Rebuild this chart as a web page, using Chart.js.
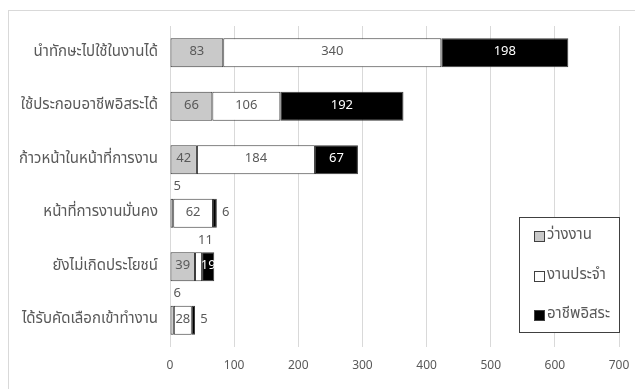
<!DOCTYPE html>
<html>
<head>
<meta charset="utf-8">
<script src="https://cdn.jsdelivr.net/npm/chart.js@4/dist/chart.umd.min.js"></script>
<style>
  html, body { margin: 0; padding: 0; background: #fff; }
  #wrap { position: relative; width: 635px; height: 389px; }
  #frame { position: absolute; left: 8px; top: 10px; right: -2px; bottom: -2px; border: 1px solid #d9d9d9; }
  canvas { position: absolute; left: 0; top: 0; }
</style>
</head>
<body>
<div id="wrap">
  <div id="frame"></div>
  <canvas id="c" width="635" height="389"></canvas>
</div>
<script>
// Benefit categories and respondent counts by employment status
const categories = [
  'นำทักษะไปใช้ในงานได้',
  'ใช้ประกอบอาชีพอิสระได้',
  'ก้าวหน้าในหน้าที่การงาน',
  'หน้าที่การงานมั่นคง',
  'ยังไม่เกิดประโยชน์',
  'ได้รับคัดเลือกเข้าทำงาน'
];
const seriesNames = ['ว่างงาน', 'งานประจำ', 'อาชีพอิสระ'];
const unemployed = [83, 66, 42, 5, 39, 6];
const regularJob = [340, 106, 184, 62, 11, 28];
const freelance  = [198, 192, 67, 6, 19, 5];
const xTicks = [0, 100, 200, 300, 400, 500, 600, 700];

const FONT = "'Noto Sans Thai', 'Leelawadee UI', Tahoma, 'Noto Sans', sans-serif";
const TEXT = '#595959';

// Value labels on each stacked segment
const valueLabels = {
  id: 'valueLabels',
  afterDatasetsDraw(chart) {
    const ctx = chart.ctx;
    ctx.save();
    ctx.font = '13px ' + FONT;
    ctx.textBaseline = 'middle';
    ctx.textAlign = 'center';
    chart.data.datasets.forEach((ds, di) => {
      const meta = chart.getDatasetMeta(di);
      meta.data.forEach((bar, i) => {
        const v = ds.data[i];
        const p = bar.getProps(['x', 'y', 'base', 'height'], true);
        const left = Math.min(p.x, p.base), right = Math.max(p.x, p.base);
        const w = ctx.measureText(String(v)).width;
        let tx = (left + right) / 2, ty = p.y, color = di === 2 ? '#ffffff' : TEXT;
        let clip = false;
        if (di < 2 && v < 15) {
          // too narrow: put the number above the segment
          tx = Math.max(tx, left + w / 2 + 3);
          ty = p.y - p.height / 2 - 11;
          color = TEXT;
        } else if (di === 2 && v < 10) {
          // too narrow: put the number after the end of the bar
          tx = right + 9;
          color = TEXT;
        } else if (di === 2) {
          // white text stays inside the black segment
          clip = true;
        }
        ctx.save();
        if (clip) {
          ctx.beginPath();
          ctx.rect(left, p.y - p.height / 2, right - left + 1, p.height);
          ctx.clip();
        }
        ctx.fillStyle = color;
        ctx.fillText(String(v), tx, ty);
        ctx.restore();
      });
    });
    ctx.restore();
  }
};

// Boxed legend sitting inside the plot area
const boxLegend = {
  id: 'boxLegend',
  afterDraw(chart) {
    const ctx = chart.ctx;
    const x = 519, y = 217, w = 100, h = 115;
    ctx.save();
    ctx.fillStyle = '#ffffff';
    ctx.fillRect(x, y, w, h);
    ctx.strokeStyle = '#404040';
    ctx.lineWidth = 1;
    ctx.strokeRect(x + 0.5, y + 0.5, w, h);
    ctx.font = '15px ' + FONT;
    ctx.textBaseline = 'middle';
    ctx.textAlign = 'left';
    const rows = [236, 276, 315];
    chart.data.datasets.forEach((ds, di) => {
      const cy = rows[di];
      ctx.fillStyle = ds.backgroundColor;
      ctx.fillRect(534, cy - 5, 10, 10);
      ctx.strokeStyle = '#404040';
      ctx.strokeRect(534.5, cy - 4.5, 10, 10);
      ctx.fillStyle = TEXT;
      ctx.fillText(ds.label, 547, cy);
    });
    ctx.restore();
  }
};

const palette = ['#c9c9c9', '#ffffff', '#000000'];
const values = [unemployed, regularJob, freelance];

new Chart(document.getElementById('c'), {
  type: 'bar',
  data: {
    labels: categories,
    datasets: seriesNames.map((name, i) => ({
      label: name,
      data: values[i],
      backgroundColor: palette[i],
      borderColor: '#3a3a3a',
      borderWidth: 1,
      borderSkipped: false,
      barPercentage: 0.54,
      categoryPercentage: 1
    }))
  },
  options: {
    indexAxis: 'y',
    responsive: false,
    animation: false,
    devicePixelRatio: 1,
    layout: { padding: { left: 10, right: 16, top: 26, bottom: 5 } },
    plugins: { legend: { display: false }, tooltip: { enabled: false } },
    scales: {
      x: {
        stacked: true,
        min: 0,
        max: 700,
        afterBuildTicks(scale) { scale.ticks = xTicks.map(v => ({ value: v })); },
        afterFit(scale) {
          scale.height = 37;
          scale.paddingLeft = 0;
          scale.paddingRight = 0;
        },
        grid: { color: '#d9d9d9', drawTicks: false },
        border: { display: false },
        ticks: { color: TEXT, font: { family: FONT, size: 12 }, padding: 12 }
      },
      y: {
        stacked: true,
        afterFit(scale) { scale.width = 160; },
        grid: { display: false, drawTicks: false },
        border: { display: false },
        ticks: { color: TEXT, font: { family: FONT, size: 15 }, padding: 12 }
      }
    }
  },
  plugins: [valueLabels, boxLegend]
});
</script>
</body>
</html>
